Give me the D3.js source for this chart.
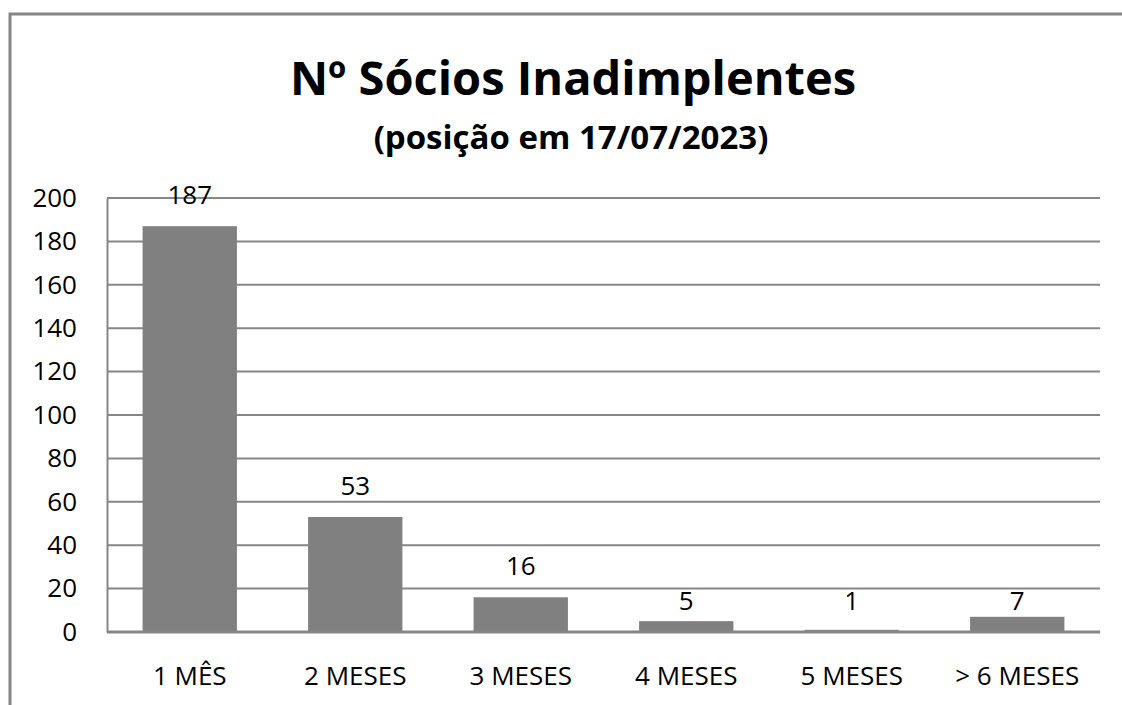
<!DOCTYPE html>
<html>
<head>
<meta charset="utf-8">
<script src="https://cdn.jsdelivr.net/npm/d3@7"></script>
<style>
  body { margin: 0; background: #fff; }
  svg text { font-family: "Open Sans", "Noto Sans", sans-serif; fill: #000; }
</style>
</head>
<body>
<div id="chart"></div>
<script>
var categories = ["1 MÊS", "2 MESES", "3 MESES", "4 MESES", "5 MESES", "> 6 MESES"]
var values = [187, 53, 16, 5, 1, 7]
var yTicks = [0, 20, 40, 60, 80, 100, 120, 140, 160, 180, 200]

var title = "Nº Sócios Inadimplentes",
    subtitle = "(posição em 17/07/2023)"

var width = 1122,
    height = 705,
    plotLeft = 107,
    plotRight = 1100,
    plotTop = 198,
    plotBottom = 632

var gridColor = "#868686",
    barColor = "#808080"

var svg = d3.select("#chart")
    .append("svg")
    .attr("width", width)
    .attr("height", height)

// outer frame (cut at right/bottom like the screenshot)
svg.append("path")
    .attr("d", "M10," + height + " V14 H" + width)
    .attr("fill", "none")
    .attr("stroke", gridColor)
    .attr("stroke-width", 3)

var x = d3.scaleBand()
    .domain(categories)
    .range([plotLeft, plotRight])
    .paddingInner(0.43)
    .paddingOuter(0.215)

var y = d3.scaleLinear()
    .domain([0, 200])
    .range([plotBottom, plotTop])

// gridlines
svg.append("g")
    .selectAll("line")
    .data(yTicks.slice(1))
    .join("line")
    .attr("x1", plotLeft)
    .attr("x2", plotRight)
    .attr("y1", function(d) { return y(d) })
    .attr("y2", function(d) { return y(d) })
    .attr("stroke", gridColor)
    .attr("stroke-width", 2)

// bars
svg.append("g")
    .selectAll("rect")
    .data(values)
    .join("rect")
    .attr("x", function(d, i) { return x(categories[i]) })
    .attr("width", x.bandwidth())
    .attr("y", function(d) { return y(d) })
    .attr("height", function(d) { return y(0) - y(d) })
    .attr("fill", barColor)

// base line over the bars
svg.append("line")
    .attr("x1", plotLeft)
    .attr("x2", plotRight)
    .attr("y1", y(0))
    .attr("y2", y(0))
    .attr("stroke", gridColor)
    .attr("stroke-width", 3)

// y axis
var yAxis = svg.append("g")
    .attr("transform", "translate(" + plotLeft + ",0)")
    .call(d3.axisLeft(y).tickValues(yTicks).tickSize(0).tickPadding(30))
yAxis.select(".domain").attr("stroke", gridColor).attr("stroke-width", 2)
yAxis.selectAll("text")
    .attr("font-size", 26)
    .attr("fill", "#000")

// x axis labels
var xAxis = svg.append("g")
    .attr("transform", "translate(0," + plotBottom + ")")
    .call(d3.axisBottom(x).tickSize(0).tickPadding(35))
xAxis.select(".domain").remove()
xAxis.selectAll("text")
    .attr("font-size", 26)
    .attr("fill", "#000")

// value labels (small values sit on a common line near the axis, like excel)
svg.append("g")
    .selectAll("text")
    .data(values)
    .join("text")
    .attr("x", function(d, i) { return x(categories[i]) + x.bandwidth() / 2 })
    .attr("y", function(d) {
        if (d < 10) return y(0) - 22
        return y(d) - 22
    })
    .attr("text-anchor", "middle")
    .attr("font-size", 26)
    .text(function(d) { return d })

svg.append("text")
    .attr("x", 573)
    .attr("y", 95)
    .attr("text-anchor", "middle")
    .attr("font-size", 47)
    .attr("font-weight", "bold")
    .text(title)

svg.append("text")
    .attr("x", 571)
    .attr("y", 149)
    .attr("text-anchor", "middle")
    .attr("font-size", 33)
    .attr("font-weight", "bold")
    .text(subtitle)
</script>
</body>
</html>
